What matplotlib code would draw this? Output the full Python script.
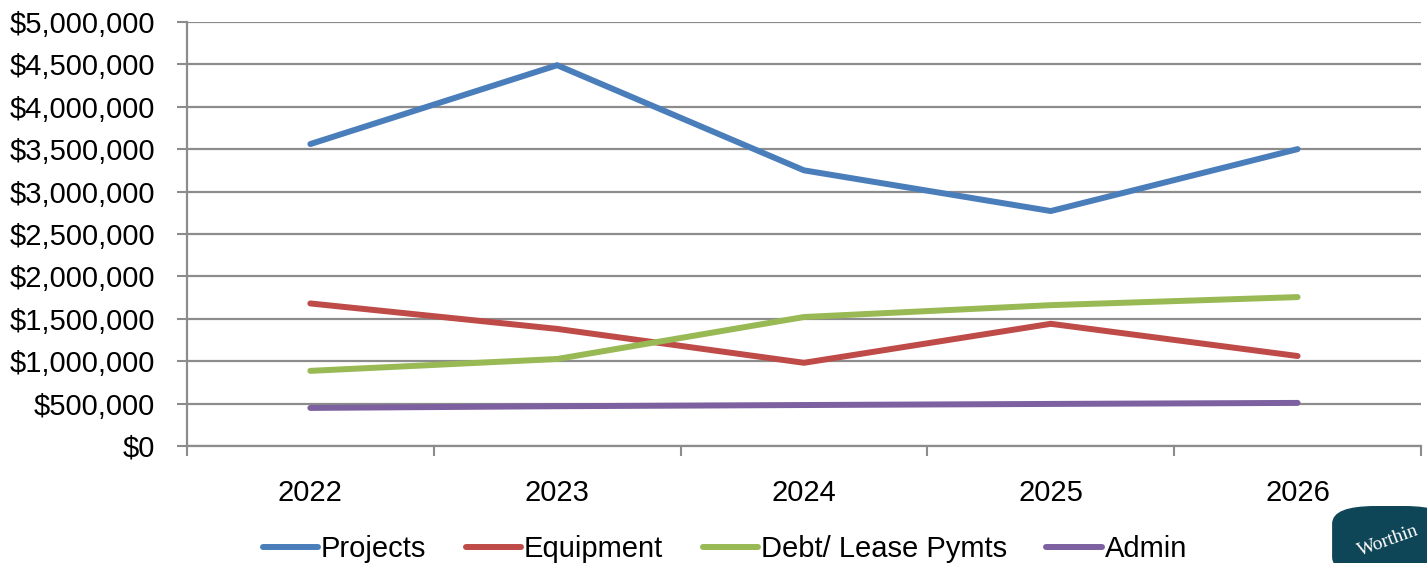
import matplotlib
matplotlib.use("Agg")
import matplotlib.pyplot as plt
from matplotlib.patches import FancyBboxPatch
from matplotlib.ticker import FuncFormatter, FixedLocator

years = ["2022", "2023", "2024", "2025", "2026"]
projects = [3560000, 4490000, 3250000, 2770000, 3500000]
equipment = [1680000, 1380000, 980000, 1440000, 1060000]
debt_lease = [885000, 1025000, 1520000, 1660000, 1755000]
admin = [448000, 468000, 482000, 495000, 507000]

series_names = ["Projects", "Equipment", "Debt/ Lease Pymts", "Admin"]
colors = ["#4A7EBB", "#BE4B48", "#98B954", "#7D60A0"]

plt.rcParams['font.family'] = ['Liberation Sans', 'DejaVu Sans']

fig = plt.figure(figsize=(14.27, 5.63), dpi=100)
ax = fig.add_axes([0.131, 0.208, 0.8648, 0.753])

x = list(range(len(years)))
for vals, name, c in zip([projects, equipment, debt_lease, admin], series_names, colors):
    ax.plot(x, vals, color=c, lw=4.3, label=name, solid_capstyle='round', solid_joinstyle='round')

ax.set_xlim(-0.5, len(years) - 0.5)
ax.set_ylim(0, 5000000)
ax.set_yticks(range(0, 5000001, 500000))
ax.yaxis.set_major_formatter(FuncFormatter(lambda v, p: "${:,.0f}".format(v)))
ax.grid(axis='y', color='#8c8c8c', lw=1.6)
ax.set_axisbelow(True)

# category boundaries get the tick marks, labels sit in the middle
ax.xaxis.set_major_locator(FixedLocator([i - 0.5 for i in range(len(years) + 1)]))
ax.xaxis.set_major_formatter(FuncFormatter(lambda v, p: ""))
ax.xaxis.set_minor_locator(FixedLocator(x))
ax.set_xticklabels(years, minor=True)
ax.tick_params(axis='x', which='major', length=7, width=1.5, color='#8c8c8c', direction='out')
ax.tick_params(axis='x', which='minor', length=0, pad=24, labelsize=21)
ax.tick_params(axis='y', length=7, width=1.5, color='#8c8c8c', labelsize=21, pad=16)

for s in ['top', 'right']:
    ax.spines[s].set_visible(False)
for s in ['left', 'bottom']:
    ax.spines[s].set_color('#8c8c8c')
    ax.spines[s].set_linewidth(1.6)

fig.legend(loc='center', bbox_to_anchor=(0.508, 0.024), ncol=4, frameon=False,
           fontsize=21, handlelength=1.9, handletextpad=0.1, columnspacing=1.35)

# corner logo (cropped in the original)
logo = FancyBboxPatch((0.934, -0.02), 0.08, 0.12, boxstyle="round,pad=0,rounding_size=0.03",
                      transform=fig.transFigure, facecolor='#0f4657', edgecolor='#0f4657')
fig.patches.append(logo)
fig.text(0.95, 0.04, "Worthin", color='white', fontsize=14, rotation=20,
         family='Liberation Serif', ha='left', va='center')

fig.savefig("out.png", dpi=100)
